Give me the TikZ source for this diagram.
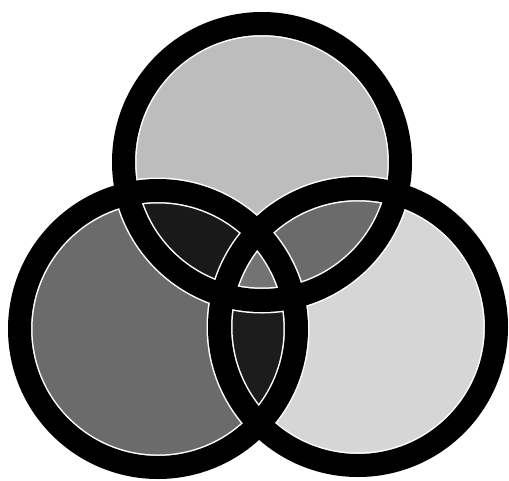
\documentclass[tikz,border=0pt]{standalone}
\begin{document}
\begin{tikzpicture}[x=1pt,y=-1pt,
  ring/.style={draw=black,line width=23pt},
  halo/.style={draw=white,line width=26pt}]
\definecolor{ctop}{gray}{0.74}
\definecolor{cleft}{gray}{0.42}
\definecolor{cright}{gray}{0.84}
\definecolor{ctl}{gray}{0.1}
\definecolor{ctr}{gray}{0.42}
\definecolor{clr}{gray}{0.11}
\definecolor{cmid}{gray}{0.45}
\useasboundingbox (0,0) rectangle (509,480);
\fill[white] (0,0) rectangle (509,480);
\coordinate (T) at (262,162);
\coordinate (L) at (158,329);
\coordinate (R) at (358,327);
\def\rr{138.5}
% base fills
\fill[ctop] (T) circle (\rr);
\fill[cleft] (L) circle (\rr);
\fill[cright] (R) circle (\rr);
% pairwise
\begin{scope}\clip (T) circle (\rr); \fill[ctl] (L) circle (\rr); \end{scope}
\begin{scope}\clip (T) circle (\rr); \fill[ctr] (R) circle (\rr); \end{scope}
\begin{scope}\clip (L) circle (\rr); \fill[clr] (R) circle (\rr); \end{scope}
\begin{scope}\clip (T) circle (\rr); \clip (L) circle (\rr); \fill[cmid] (R) circle (\rr); \end{scope}
% rings
\draw[halo] (T) circle (\rr);
\draw[halo] (L) circle (\rr);
\draw[halo] (R) circle (\rr);
\draw[ring] (T) circle (\rr);
\draw[ring] (L) circle (\rr);
\draw[ring] (R) circle (\rr);
\end{tikzpicture}
\end{document}
